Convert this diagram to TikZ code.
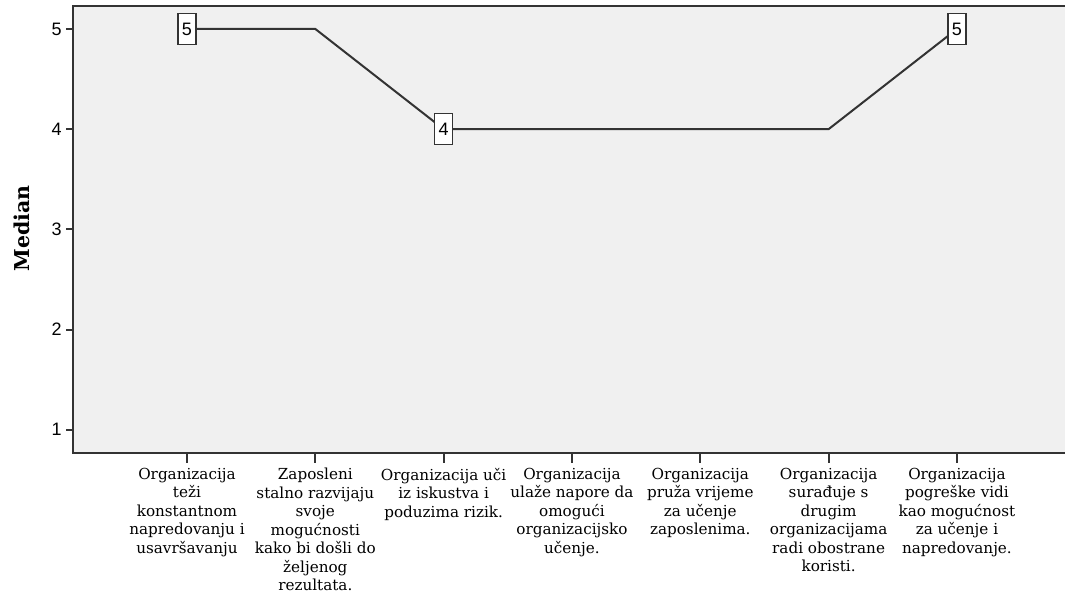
\documentclass[tikz,border=0pt]{standalone}
\usepackage{fontspec}
\setmainfont{DejaVu Serif}
\newfontfamily\ticksans{Liberation Sans}
\definecolor{plotbg}{HTML}{F0F0F0}
\definecolor{plotline}{HTML}{333333}

\begin{document}
\begin{tikzpicture}[
			x = 128.33pt, y = 100.2pt,
			frameline/.style = {line width = 2pt, draw = plotline},
			valuebox/.style = {draw = plotline, fill = white, line width = 1.2pt, inner sep = 0pt,
				minimum width = 18pt, minimum height = 31pt, font = \ticksans\fontsize{18}{18}\selectfont},
			catlabel/.style = {anchor = north, align = center, inner sep = 0pt,
				font = \fontsize{15.2}{18.5}\selectfont},
			]

			\def\xl{0.1117}
			\def\xr{7.842}
			\def\yb{0.768}
			\def\yt{5.23}

			\useasboundingbox (-0.457,-0.659) rectangle (7.842,5.289);
			\fill[plotbg] (\xl,\yb) rectangle (\xr,\yt);
			\draw[frameline] (\xr,\yt) -- (\xl,\yt) -- (\xl,\yb) -- (\xr,\yb);

			\foreach \v in {1,...,5}
				\draw[frameline] (\xl,\v) -- ++(-7pt,0) node[left = 0pt, font = \ticksans\fontsize{18}{18}\selectfont] {\v};
			\foreach \i in {1,...,7}
				\draw[frameline] (\i,\yb) -- ++(0,-10pt);

			\node[rotate = 90, font = \bfseries\fontsize{20.5}{20.5}\selectfont] (ylab) at (-0.286,3.01) {Median};

			\coordinate (p1) at (1,5);
			\coordinate (p2) at (2,5);
			\coordinate (p3) at (3,4);
			\coordinate (p4) at (4,4);
			\coordinate (p5) at (5,4);
			\coordinate (p6) at (6,4);
			\coordinate (p7) at (7,5);
			\draw[plotline, line width = 2pt] (p1) -- (p2) -- (p3) -- (p4) -- (p5) -- (p6) -- (p7);

			\node[valuebox] (v1) at (p1) {5};
			\node[valuebox] (v3) at (p3) {4};
			\node[valuebox] (v7) at (p7) {5};

			\node[catlabel] (c1) at (1,0.62) {Organizacija\\teži\\konstantnom\\napredovanju i\\usavršavanju};
			\node[catlabel] (c2) at (2,0.62) {Zaposleni\\stalno razvijaju\\svoje\\mogućnosti\\kako bi došli do\\željenog\\rezultata.};
			\node[catlabel] (c3) at (3,0.62) {Organizacija uči\\iz iskustva i\\poduzima rizik.};
			\node[catlabel] (c4) at (4,0.62) {Organizacija\\ulaže napore da\\omogući\\organizacijsko\\učenje.};
			\node[catlabel] (c5) at (5,0.62) {Organizacija\\pruža vrijeme\\za učenje\\zaposlenima.};
			\node[catlabel] (c6) at (6,0.62) {Organizacija\\surađuje s\\drugim\\organizacijama\\radi obostrane\\koristi.};
			\node[catlabel] (c7) at (7,0.62) {Organizacija\\pogreške vidi\\kao mogućnost\\za učenje i\\napredovanje.};

		\end{tikzpicture}
\end{document}
